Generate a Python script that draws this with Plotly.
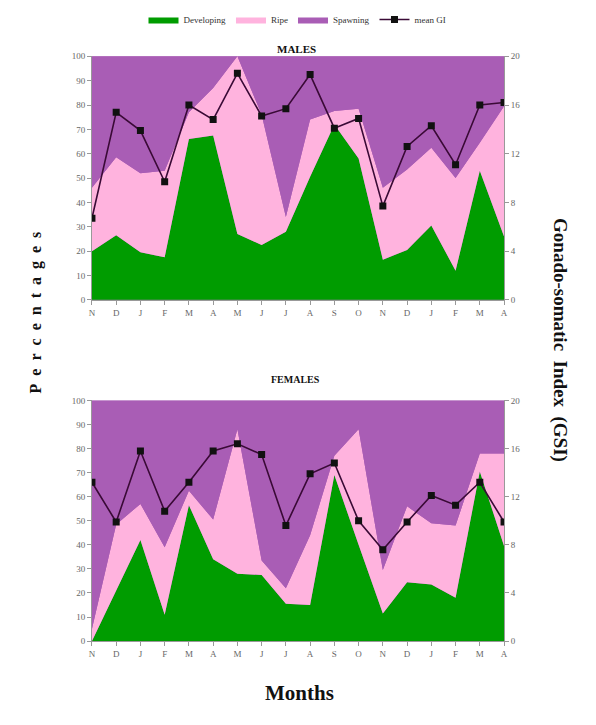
import plotly.graph_objects as go

months = ["N", "D", "J", "F", "M", "A", "M", "J", "J", "A", "S", "O", "N", "D", "J", "F", "M", "A"]

males_developing = [20, 26.5, 19.5, 17.5, 66, 67.5, 27, 22.5, 28, 50.5, 72, 58, 16.5, 20.5, 30.5, 12, 53, 26]
males_ripe = [26, 32, 32.5, 35.5, 11, 19.5, 73, 53.5, 6, 23.5, 5.5, 20.5, 29.5, 33, 32, 38, 11.5, 53.5]
males_spawning = [54, 41.5, 48, 47, 23, 13, 0, 24, 66, 26, 22.5, 21.5, 54, 46.5, 37.5, 50, 35.5, 20.5]
males_gsi = [6.7, 15.4, 13.9, 9.7, 16, 14.8, 18.6, 15.1, 15.7, 18.5, 14.1, 14.9, 7.7, 12.6, 14.3, 11.1, 16, 16.2]

females_developing = [0, 21, 42, 11, 56.5, 34, 28, 27.5, 15.5, 15, 69, 40, 11.5, 24.5, 23.5, 18, 70.5, 39.5]
females_ripe = [5, 27.5, 15, 28, 6, 16.5, 60, 6, 6.5, 29, 8, 48, 18, 31.5, 25.5, 30, 7.5, 38.5]
females_spawning = [95, 51.5, 43, 61, 37.5, 49.5, 12, 66.5, 78, 56, 23, 12, 70.5, 44, 51, 52, 22, 22]
females_gsi = [13.2, 9.9, 15.8, 10.8, 13.2, 15.8, 16.4, 15.5, 9.6, 13.9, 14.8, 10, 7.6, 9.9, 12.1, 11.3, 13.2, 9.9]

pct_ticks = list(range(0, 101, 10))
gsi_ticks = [0, 4, 8, 12, 16, 20]

GREEN = "#009c00"
PINK = "#ffb3de"
PURPLE = "#a95db5"
LINE = "#3a0a36"
SERIF = "Liberation Serif"

x = list(range(len(months)))
fig = go.Figure()

def add_panel(dev, ripe, spawn, gsi, xa, ya, ya2, grp, show):
    for name, vals, col in [("Developing", dev, GREEN), ("Ripe", ripe, PINK), ("Spawning", spawn, PURPLE)]:
        fig.add_trace(go.Scatter(
            x=x, y=vals, name=name, stackgroup=grp, mode="lines",
            line=dict(width=0, color=col), fillcolor=col,
            xaxis=xa, yaxis=ya, showlegend=show, legendgroup=name,
        ))
    fig.add_trace(go.Scatter(
        x=x, y=gsi, name="mean GI", mode="lines+markers",
        line=dict(color=LINE, width=1.6),
        marker=dict(symbol="square", size=7, color="#111111"),
        xaxis=xa, yaxis=ya2, showlegend=show, legendgroup="gsi",
    ))

add_panel(males_developing, males_ripe, males_spawning, males_gsi, "x", "y", "y2", "m", True)
add_panel(females_developing, females_ripe, females_spawning, females_gsi, "x2", "y3", "y4", "f", False)

tickfont = dict(family=SERIF, size=9, color="#666666")
xcommon = dict(range=[0, 17], tickvals=x, ticktext=months, ticks="outside", ticklen=4,
               tickcolor="#999999", showline=True, linecolor="#999999", showgrid=False,
               zeroline=False, tickfont=tickfont, fixedrange=True)
ycommon = dict(range=[0, 100], tickvals=pct_ticks, ticks="outside", ticklen=4, tickcolor="#999999",
               showline=True, linecolor="#999999", showgrid=False, zeroline=False, tickfont=tickfont)
y2common = dict(range=[0, 20], tickvals=gsi_ticks, ticks="outside", ticklen=4, tickcolor="#999999",
                showline=True, linecolor="#999999", showgrid=False, zeroline=False, tickfont=tickfont,
                side="right")

xd = [90 / 596, 507 / 596]
top_d = [(725 - 299) / 725, (725 - 52) / 725]
bot_d = [(725 - 645) / 725, (725 - 401) / 725]

fig.update_layout(
    width=596, height=725, autosize=False,
    margin=dict(l=0, r=0, t=0, b=0),
    paper_bgcolor="white", plot_bgcolor=PURPLE,
    xaxis=dict(domain=xd, anchor="y", **xcommon),
    yaxis=dict(domain=top_d, anchor="x", **ycommon),
    yaxis2=dict(overlaying="y", anchor="x", **y2common),
    xaxis2=dict(domain=xd, anchor="y3", **xcommon),
    yaxis3=dict(domain=bot_d, anchor="x2", **ycommon),
    yaxis4=dict(overlaying="y3", anchor="x2", **y2common),
    legend=dict(orientation="h", x=0.5, xanchor="center", y=1.0, yanchor="top",
                font=dict(family=SERIF, size=9, color="#333333"), traceorder="normal",
                itemwidth=30, bgcolor="rgba(0,0,0,0)"),
    showlegend=True,
)

nb = "\u00a0"
annotations = [
    dict(text="<b>MALES</b>", x=297 / 596, y=(725 - 37) / 725, xref="paper", yref="paper",
         showarrow=False, font=dict(family=SERIF, size=11, color="#111111")),
    dict(text="<b>FEMALES</b>", x=296 / 596, y=(725 - 380) / 725, xref="paper", yref="paper",
         showarrow=False, font=dict(family=SERIF, size=10, color="#111111")),
    dict(text="<b>" + (nb * 2).join("Percentages") + "</b>", x=22 / 596, y=(725 - 312) / 725,
         xref="paper", yref="paper", showarrow=False, textangle=-90,
         font=dict(family=SERIF, size=16, color="#111111")),
    dict(text="<b>Gonado-somatic" + nb * 2 + "Index" + nb * 2 + "(GSI)</b>", x=576 / 596, y=(725 - 340) / 725,
         xref="paper", yref="paper", showarrow=False, textangle=90,
         font=dict(family=SERIF, size=19, color="#111111")),
    dict(text="<b>Months</b>", x=300 / 596, y=(725 - 712) / 725, xref="paper", yref="paper",
         showarrow=False, font=dict(family=SERIF, size=21, color="#111111")),
]
fig.update_layout(annotations=annotations)

fig.write_html("out.html")
